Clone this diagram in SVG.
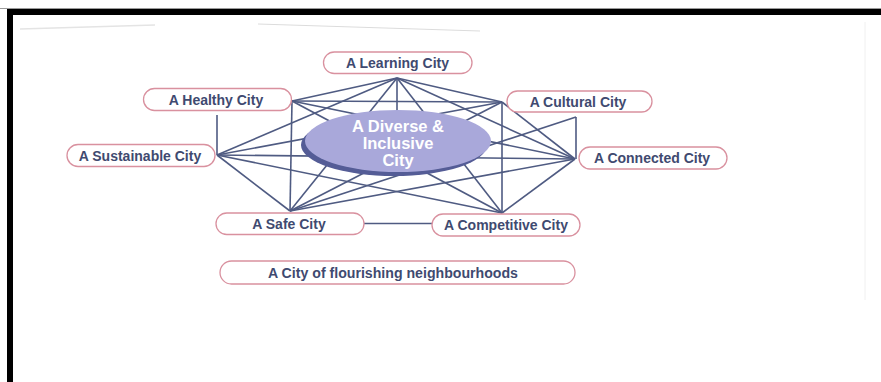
<svg xmlns="http://www.w3.org/2000/svg" width="881" height="382" viewBox="0 0 881 382">
  <style>
    .pill { fill: #ffffff; stroke: #d9919f; stroke-width: 1.3; }
    .lbl { font-family: "Liberation Sans", Arial, sans-serif; font-weight: 700; font-size: 14px; fill: #3f4a70; text-anchor: middle; dominant-baseline: central; }
    .core { font-family: "Liberation Sans", Arial, sans-serif; font-weight: 700; font-size: 16.5px; fill: #ffffff; text-anchor: middle; dominant-baseline: central; }
    #connectors line { stroke: #4f5b82; stroke-width: 1.6; fill: none; }
  </style>

  <!-- page background and frame -->
  <rect x="0" y="0" width="881" height="382" fill="#ffffff"/>
  <line x1="20" y1="29" x2="155" y2="25" stroke="#e4e4e4" stroke-width="1.5"/>
  <line x1="258" y1="24" x2="480" y2="31" stroke="#dcdcdc" stroke-width="1.2"/>
  <line x1="865" y1="22" x2="865" y2="300" stroke="#f0f0f0" stroke-width="1"/>
  <rect x="0" y="8" width="881" height="1" fill="#9a9a9a"/>
  <rect x="7" y="9" width="874" height="6" fill="#000000"/>
  <rect x="7" y="9" width="6" height="373" fill="#000000"/>

  <!-- connectors between the city themes -->
  <g id="connectors">
    <!-- Learning hub -->
    <line x1="397" y1="78" x2="292" y2="101"/>
    <line x1="397" y1="78" x2="502" y2="102"/>
    <line x1="397" y1="78" x2="217" y2="155"/>
    <line x1="397" y1="78" x2="575" y2="159"/>
    <line x1="397" y1="78" x2="290" y2="211"/>
    <line x1="397" y1="78" x2="502" y2="213"/>
    <line x1="397" y1="78" x2="397" y2="120"/>
    <!-- Healthy hub -->
    <line x1="292" y1="101" x2="502" y2="102"/>
    <line x1="292" y1="101" x2="575" y2="159"/>
    <line x1="292" y1="101" x2="290" y2="211"/>
    <line x1="292" y1="101" x2="502" y2="213"/>
    <line x1="217" y1="115" x2="217" y2="155"/>
    <!-- Cultural hub -->
    <line x1="502" y1="102" x2="217" y2="155"/>
    <line x1="502" y1="102" x2="575" y2="159"/>
    <line x1="502" y1="102" x2="290" y2="211"/>
    <line x1="502" y1="102" x2="502" y2="213"/>
    <line x1="576" y1="117" x2="576" y2="159"/>
    <line x1="576" y1="117" x2="290" y2="211"/>
    <!-- Sustainable hub -->
    <line x1="217" y1="155" x2="575" y2="159"/>
    <line x1="217" y1="155" x2="290" y2="211"/>
    <line x1="217" y1="155" x2="502" y2="213"/>
    <!-- Connected hub -->
    <line x1="575" y1="159" x2="290" y2="211"/>
    <line x1="575" y1="159" x2="502" y2="213"/>
    <!-- Safe to Competitive -->
    <line x1="364" y1="223.5" x2="432" y2="223.5"/>
  </g>

  <!-- central theme -->
  <g id="core">
    <ellipse cx="394" cy="145" rx="93" ry="31" fill="#545c96"/>
    <ellipse cx="398" cy="141" rx="93" ry="31" fill="#a9a8da"/>
    <text class="core" x="398" y="126">A Diverse &amp;</text>
    <text class="core" x="398" y="143">Inclusive</text>
    <text class="core" x="398" y="160">City</text>
  </g>

  <g id="learning">
    <rect class="pill" x="323.5" y="52" width="148.5" height="21.5" rx="10.75"/>
    <text class="lbl" x="397.5" y="62.5">A Learning City</text>
  </g>
  <g id="healthy">
    <rect class="pill" x="143.5" y="88.5" width="148" height="22" rx="11"/>
    <text class="lbl" x="216" y="99.5">A Healthy City</text>
  </g>
  <g id="cultural">
    <rect class="pill" x="507" y="91" width="145" height="21" rx="10.5"/>
    <text class="lbl" x="578" y="101.5">A Cultural City</text>
  </g>
  <g id="sustainable">
    <rect class="pill" x="67" y="144.5" width="148" height="22" rx="11"/>
    <text class="lbl" x="140" y="155.5">A Sustainable City</text>
  </g>
  <g id="connected">
    <rect class="pill" x="579" y="147" width="148" height="22" rx="11"/>
    <text class="lbl" x="652" y="158">A Connected City</text>
  </g>
  <g id="safe">
    <rect class="pill" x="216" y="213" width="148" height="21.5" rx="10.75"/>
    <text class="lbl" x="289" y="223.5">A Safe City</text>
  </g>
  <g id="competitive">
    <rect class="pill" x="432" y="214" width="148" height="22" rx="11"/>
    <text class="lbl" x="506" y="225">A Competitive City</text>
  </g>
  <g id="neighbourhoods">
    <rect class="pill" x="220" y="261" width="355" height="23" rx="11.5"/>
    <text class="lbl" x="393" y="272.5" textLength="250" lengthAdjust="spacingAndGlyphs">A City of flourishing neighbourhoods</text>
  </g>
</svg>
